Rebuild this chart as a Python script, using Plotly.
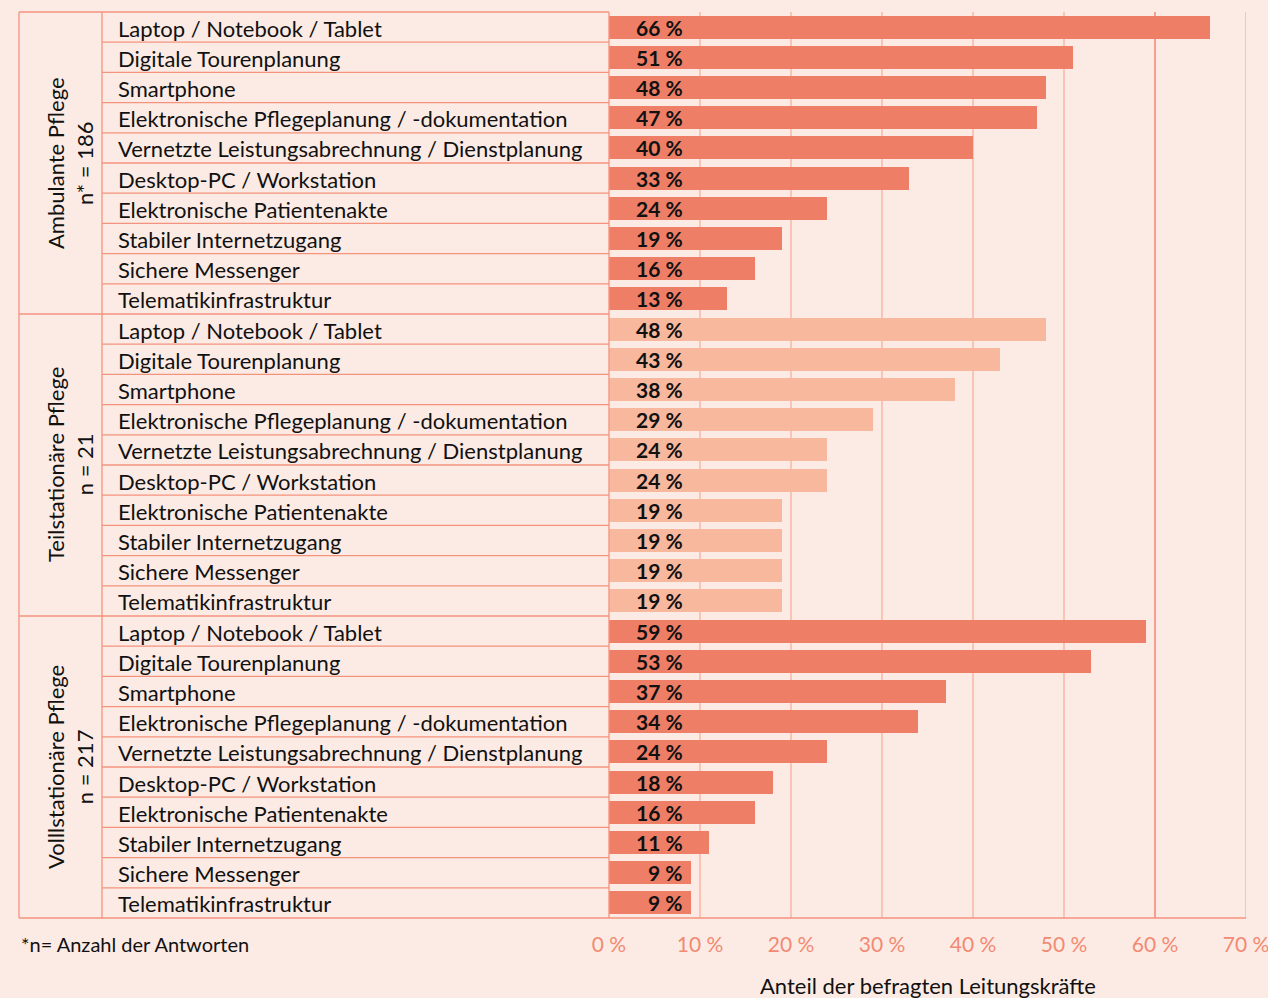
import plotly.graph_objects as go

groups = ["Ambulante Pflege<br>n* = 186", "Teilstationäre Pflege<br>n = 21", "Volllstationäre Pflege<br>n = 217"]
items = [
    "Laptop / Notebook / Tablet",
    "Digitale Tourenplanung",
    "Smartphone",
    "Elektronische Pflegeplanung / -dokumentation",
    "Vernetzte Leistungsabrechnung / Dienstplanung",
    "Desktop-PC / Workstation",
    "Elektronische Patientenakte",
    "Stabiler Internetzugang",
    "Sichere Messenger",
    "Telematikinfrastruktur",
]
ambulant = [66, 51, 48, 47, 40, 33, 24, 19, 16, 13]
teilstationaer = [48, 43, 38, 29, 24, 24, 19, 19, 19, 19]
vollstationaer = [59, 53, 37, 34, 24, 18, 16, 11, 9, 9]
series = [ambulant, teilstationaer, vollstationaer]
bar_colors = ["#EF7E66", "#F8B89E", "#EF7E66"]
x_ticks = [0, 10, 20, 30, 40, 50, 60, 70]
x_title = "Anteil der befragten Leitungskräfte"
footnote = "*n= Anzahl der Antworten"

W, H = 1268, 998
BG = "#FCEBE4"
LINE = "#F4937D"
GRID = "#F8B6A6"
FONT = "Lato"

# pixel geometry
px_left_table = 19
px_group_div = 102
px_plot_l = 609
px_plot_r = 1246
px_top = 12
px_bottom = 918

def fx(px):
    return px / W

def fy(py):
    return 1 - py / H

fig = go.Figure()

n_items = len(items)
n_rows = n_items * len(groups)
for g, vals in enumerate(series):
    ys = [g * n_items + i for i in range(n_items)]
    fig.add_trace(go.Bar(
        x=vals, y=ys, orientation="h", width=0.76,
        marker=dict(color=bar_colors[g], line=dict(width=0)),
        hoverinfo="x", showlegend=False,
    ))
    for y, v in zip(ys, vals):
        fig.add_annotation(x=0, y=y, xref="x", yref="y", text=f"<b>{v} %</b>",
                           showarrow=False, xanchor="right", xshift=76, yshift=0,
                           font=dict(family=FONT, size=21, color="#111111"))

# item labels
for r in range(n_rows):
    fig.add_annotation(x=fx(px_group_div + 14), y=r, xref="paper", yref="y",
                       text=items[r % n_items], showarrow=False, xanchor="left",
                       yshift=-1,
                       font=dict(family=FONT, size=22, color="#111111"))

# group labels
row_h = (px_bottom - px_top) / n_rows
for g, name in enumerate(groups):
    yc = px_top + (g * n_items + n_items / 2) * row_h
    fig.add_annotation(x=fx(70), y=fy(yc), xref="paper", yref="paper",
                       text=name, showarrow=False, textangle=-90,
                       xanchor="center", yanchor="middle",
                       font=dict(family=FONT, size=22, color="#111111"))

shapes = []
# row separators
for r in range(1, n_rows):
    py = px_top + r * row_h
    x0 = px_left_table if r % n_items == 0 else px_group_div
    shapes.append(dict(type="line", xref="paper", yref="paper", x0=fx(x0), x1=fx(px_plot_l),
                       y0=fy(py), y1=fy(py), line=dict(color=LINE, width=1.3), layer="below"))
# table borders
shapes.append(dict(type="line", xref="paper", yref="paper", x0=fx(px_left_table), x1=fx(px_plot_l),
                   y0=fy(px_top), y1=fy(px_top), line=dict(color=LINE, width=1.3)))
shapes.append(dict(type="line", xref="paper", yref="paper", x0=fx(px_left_table), x1=fx(px_plot_r),
                   y0=fy(px_bottom), y1=fy(px_bottom), line=dict(color=LINE, width=1.5)))
for xv in [px_left_table, px_group_div, px_plot_l]:
    shapes.append(dict(type="line", xref="paper", yref="paper", x0=fx(xv), x1=fx(xv),
                       y0=fy(px_top), y1=fy(px_bottom), line=dict(color=LINE, width=1.3)))
# grid lines
for t in x_ticks[1:]:
    shapes.append(dict(type="line", xref="x", yref="paper", x0=t, x1=t,
                       y0=fy(px_bottom), y1=fy(px_top),
                       line=dict(color=GRID if t != 60 else "#F5A08C", width=1.5 if t != 60 else 2),
                       layer="below"))

fig.add_annotation(x=fx(px_left_table), y=fy(944), xref="paper", yref="paper", text=footnote,
                   showarrow=False, xanchor="left", yanchor="middle",
                   font=dict(family=FONT, size=20, color="#111111"))
fig.add_annotation(x=fx((px_plot_l + px_plot_r) / 2), y=fy(985), xref="paper", yref="paper", text=x_title,
                   showarrow=False, xanchor="center", yanchor="middle",
                   font=dict(family=FONT, size=22, color="#111111"))

fig.update_layout(
    template="none",
    width=W, height=H,
    margin=dict(l=0, r=0, t=0, b=0, pad=0, autoexpand=False),
    paper_bgcolor=BG, plot_bgcolor=BG,
    shapes=shapes,
    bargap=0,
    xaxis=dict(domain=[fx(px_plot_l), fx(px_plot_r)], range=[0, 70], tickvals=x_ticks,
               ticktext=[f"{t} %" for t in x_ticks], showgrid=False, zeroline=False,
               showline=False, ticks="", ticklen=0, automargin=False,
               ticklabeloverflow="allow", ticklabelstandoff=12,
               tickfont=dict(family=FONT, size=21, color="#F28A73"), fixedrange=True),
    yaxis=dict(domain=[fy(px_bottom), fy(px_top)], range=[n_rows - 0.5, -0.5], automargin=False,
               showticklabels=False, showgrid=False, zeroline=False, showline=False, fixedrange=True),
)

fig.write_html(
    "out.html",
    config={"displayModeBar": False},
    post_script="document.body.style.margin='0';document.body.style.overflow='hidden';",
)
